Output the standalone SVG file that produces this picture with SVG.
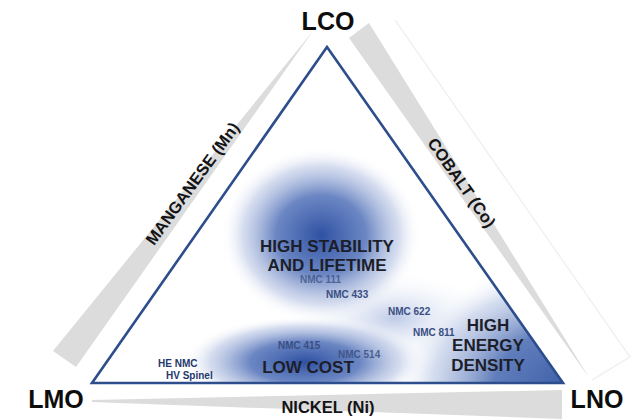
<svg xmlns="http://www.w3.org/2000/svg" width="634" height="419" viewBox="0 0 634 419">
  <defs>
    <style>
      .vertex { font-family: "Liberation Sans", Arial, sans-serif; font-weight: bold; font-size: 25px; fill: #0d0d0d; text-anchor: middle; }
      .axis { font-family: "Liberation Sans", Arial, sans-serif; font-weight: bold; font-size: 16.5px; fill: #141414; text-anchor: middle; }
      .region { font-family: "Liberation Sans", Arial, sans-serif; font-weight: bold; font-size: 17px; fill: #1c1e2a; text-anchor: middle; }
      .grade { font-family: "Liberation Sans", Arial, sans-serif; font-weight: bold; font-size: 10px; fill: #3a4f82; }
      .band { fill: #dcdcdc; }
      .edge { fill: none; stroke: #2d4d8c; stroke-width: 2.6; stroke-linejoin: miter; }
    </style>
    <clipPath id="tri-clip">
      <polygon points="327,47 92,383 563,383"/>
    </clipPath>
    <radialGradient id="blob" cx="0.5" cy="0.5" r="0.5">
      <stop offset="0" stop-color="#2f51a3" stop-opacity="1"/>
      <stop offset="0.45" stop-color="#5171b8" stop-opacity="0.85"/>
      <stop offset="0.78" stop-color="#aab9de" stop-opacity="0.5"/>
      <stop offset="1" stop-color="#ffffff" stop-opacity="0"/>
    </radialGradient>
    <radialGradient id="corner" cx="0.5" cy="0.5" r="0.5">
      <stop offset="0" stop-color="#3b5ca6" stop-opacity="1"/>
      <stop offset="0.45" stop-color="#5877b8" stop-opacity="0.95"/>
      <stop offset="0.8" stop-color="#b4c3e3" stop-opacity="0.55"/>
      <stop offset="1" stop-color="#ffffff" stop-opacity="0"/>
    </radialGradient>
    <radialGradient id="haze" cx="0.5" cy="0.5" r="0.5">
      <stop offset="0" stop-color="#aebee2" stop-opacity="0.8"/>
      <stop offset="1" stop-color="#ffffff" stop-opacity="0"/>
    </radialGradient>
  </defs>

  <rect width="634" height="419" fill="#ffffff"/>

  <!-- composition wedges along each side -->
  <g id="bands">
    <!-- faint outline beside the cobalt wedge -->
    <polyline points="395,20 630,357 592,380" fill="none" stroke="#f1f1f1" stroke-width="1.5"/>
    <polygon class="band" points="313,31 76,367 53,351"/>
    <polygon class="band" points="349,38 369,23 590,379"/>
    <polygon class="band" points="92,400 562,390 562,419 92,402"/>
    <text class="axis" transform="translate(197,187) rotate(-54)">MANGANESE (Mn)</text>
    <text class="axis" transform="translate(457,186) rotate(55)">COBALT (Co)</text>
    <text class="axis" x="328" y="413">NICKEL (Ni)</text>
  </g>

  <!-- property regions inside the triangle -->
  <g id="regions" clip-path="url(#tri-clip)">
    <polygon points="327,47 92,383 563,383" fill="#ffffff"/>
    <ellipse cx="395" cy="318" rx="100" ry="48" fill="url(#haze)"/>
    <ellipse cx="575" cy="388" rx="180" ry="130" fill="url(#corner)"/>
    <ellipse cx="321" cy="235" rx="100" ry="88" fill="url(#blob)"/>
    <ellipse cx="305" cy="362" rx="122" ry="46" fill="url(#blob)"/>
  </g>

  <!-- triangle sides -->
  <g id="connectors">
    <polygon class="edge" points="327,47 92,383 563,383"/>
  </g>

  <g id="node-lco"><text class="vertex" x="328" y="30">LCO</text></g>
  <g id="node-lmo"><text class="vertex" x="56" y="408">LMO</text></g>
  <g id="node-lno"><text class="vertex" x="597" y="408">LNO</text></g>

  <g id="region-stability">
    <text class="region" x="327" y="252">HIGH STABILITY</text>
    <text class="region" x="327" y="271">AND LIFETIME</text>
  </g>
  <g id="region-cost">
    <text class="region" x="308" y="373">LOW COST</text>
  </g>
  <g id="region-energy">
    <text class="region" x="488" y="331">HIGH</text>
    <text class="region" x="488" y="351">ENERGY</text>
    <text class="region" x="488" y="371">DENSITY</text>
  </g>

  <g id="grades">
    <text class="grade" x="300" y="283" fill-opacity="0.75">NMC 111</text>
    <text class="grade" x="326" y="298">NMC 433</text>
    <text class="grade" x="388" y="315">NMC 622</text>
    <text class="grade" x="413" y="336">NMC 811</text>
    <text class="grade" x="278" y="349">NMC 415</text>
    <text class="grade" x="338" y="358" fill-opacity="0.85">NMC 514</text>
    <text class="grade" x="158" y="367" style="fill:#24386b">HE NMC</text>
    <text class="grade" x="166" y="379" style="fill:#24386b">HV Spinel</text>
  </g>
</svg>
